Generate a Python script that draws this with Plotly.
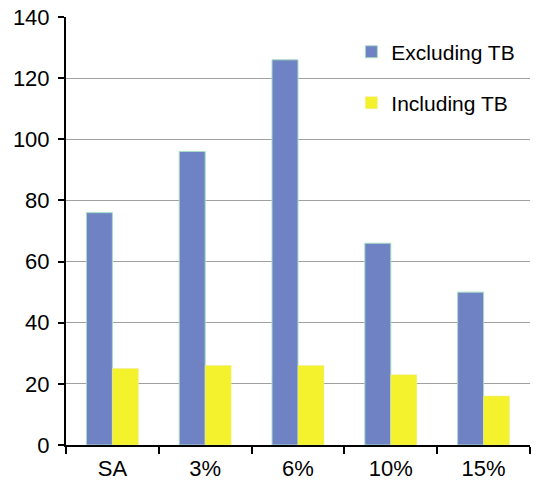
import plotly.graph_objects as go

categories = ["SA", "3%", "6%", "10%", "15%"]
excluding_tb = [76, 96, 126, 66, 50]
including_tb = [25, 26, 26, 23, 16]
y_ticks = [0, 20, 40, 60, 80, 100, 120, 140]

fig = go.Figure()
fig.add_trace(go.Bar(
    x=categories, y=excluding_tb, name="Excluding TB",
    marker=dict(color="#6f82c4", line=dict(color="#a8dcc4", width=1)),
    legend="legend", showlegend=True,
))
fig.add_trace(go.Bar(
    x=categories, y=including_tb, name="Including TB",
    marker=dict(color="#f4f22c", line=dict(color="#f0eaa0", width=0.5)),
    legend="legend2", showlegend=True,
))

font_family = "Liberation Sans, Arial, sans-serif"
fig.update_layout(
    width=537, height=483,
    margin=dict(l=66, r=7, t=17, b=38),
    paper_bgcolor="white", plot_bgcolor="white",
    barmode="group", bargap=0.44, bargroupgap=0,
    showlegend=True,
    font=dict(family=font_family, size=22, color="black"),
    legend=dict(x=0.615, y=0.918, xanchor="left", yanchor="middle",
                font=dict(size=21, family=font_family), bgcolor="rgba(0,0,0,0)"),
    legend2=dict(x=0.615, y=0.799, xanchor="left", yanchor="middle",
                 font=dict(size=21, family=font_family), bgcolor="rgba(0,0,0,0)"),
    xaxis=dict(
        showline=True, linecolor="black", linewidth=2, automargin=False,
        ticks="outside", tickson="boundaries", ticklen=7, tickwidth=2, tickcolor="black",
        showgrid=False, tickfont=dict(size=22), ticklabelstandoff=3,
    ),
    yaxis=dict(
        range=[0, 140], tickvals=y_ticks, automargin=False,
        showline=True, linecolor="black", linewidth=2,
        ticks="outside", ticklen=6, tickwidth=2, tickcolor="black",
        showgrid=True, gridcolor="#a0a0a0", gridwidth=1,
        zeroline=False, tickfont=dict(size=22), ticklabelstandoff=4,
    ),
)

fig.write_html("out.html")
